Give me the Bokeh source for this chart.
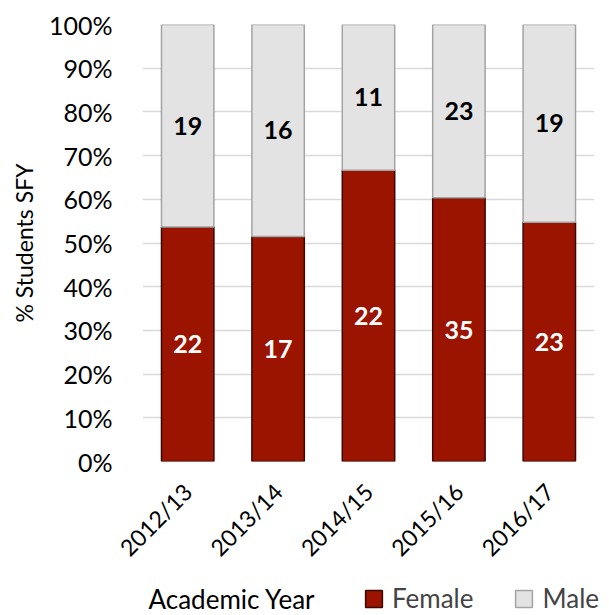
import math
from bokeh.plotting import figure
from bokeh.layouts import column
from bokeh.models import (ColumnDataSource, Range1d, Legend, LegendItem, Label,
                          NumeralTickFormatter, FixedTicker)
from bokeh.embed import file_html
from bokeh.resources import INLINE

years = ["2012/13", "2013/14", "2014/15", "2015/16", "2016/17"]
female = [22, 17, 22, 35, 23]
male = [19, 16, 11, 23, 19]

FONT = "Lato"
FEMALE_FILL, FEMALE_LINE = "#9B1400", "#3A0800"
MALE_FILL, MALE_LINE = "#E3E3E3", "#A3A3A3"

total = [f + m for f, m in zip(female, male)]
female_pct = [f / t for f, t in zip(female, total)]

src = ColumnDataSource(dict(
    year=years,
    female_top=female_pct,
    ones=[1.0] * len(years),
    female_mid=[p / 2 for p in female_pct],
    male_mid=[p + (1 - p) / 2 for p in female_pct],
    female_txt=[str(v) for v in female],
    male_txt=[str(v) for v in male],
))

p = figure(x_range=years, y_range=Range1d(0, 1), width=609, height=575,
           output_backend="svg", toolbar_location=None,
           min_border_left=142, min_border_right=15, min_border_top=24, min_border_bottom=114)
p.frame_align = False
p.outline_line_color = None

p.vbar(x="year", bottom=0, top="female_top", width=0.58, source=src,
       fill_color=FEMALE_FILL, line_color=FEMALE_LINE, line_width=1.5)
p.vbar(x="year", bottom="female_top", top="ones", width=0.58, source=src,
       fill_color=MALE_FILL, line_color=MALE_LINE, line_width=1.5)

p.text(x="year", y="female_mid", text="female_txt", source=src, text_color="white",
       text_font_size="25px", text_font_style="bold", text_align="center",
       text_baseline="middle", text_font={"value": FONT})
p.text(x="year", y="male_mid", text="male_txt", source=src, text_color="black",
       text_font_size="25px", text_font_style="bold", text_align="center",
       text_baseline="middle", text_font={"value": FONT})

# y axis
p.yaxis.ticker = FixedTicker(ticks=[i / 10 for i in range(11)])
p.yaxis.formatter = NumeralTickFormatter(format="0%")
p.yaxis.axis_line_color = None
p.yaxis.major_tick_line_color = None
p.yaxis.minor_tick_line_color = None
p.yaxis.major_label_standoff = 24
p.yaxis.major_label_text_font_size = "25px"
p.yaxis.major_label_text_font = FONT
p.yaxis.major_label_text_color = "black"
p.yaxis.axis_label = "% Students SFY"
p.yaxis.axis_label_text_font = FONT
p.yaxis.axis_label_text_font_size = "23px"
p.yaxis.axis_label_text_font_style = "normal"
p.yaxis.axis_label_text_color = "black"
p.yaxis.axis_label_standoff = 8

# x axis
p.xaxis.axis_line_color = None
p.xaxis.major_tick_line_color = None
p.xaxis.major_label_orientation = math.pi / 4
p.xaxis.major_label_text_font_size = "23px"
p.xaxis.major_label_text_font = FONT
p.xaxis.major_label_text_color = "black"
p.xaxis.major_label_standoff = 20

p.xgrid.grid_line_color = None
p.ygrid.grid_line_color = "#D9D9D9"
p.ygrid.grid_line_width = 1.5

# bottom strip: axis title and legend on one row (pixel coordinates)
strip = figure(width=609, height=40, x_range=Range1d(0, 609), y_range=Range1d(0, 40),
               output_backend="svg", toolbar_location=None,
               x_axis_location=None, y_axis_location=None,
               min_border=0, min_border_left=0, min_border_right=0,
               min_border_top=0, min_border_bottom=0)
strip.frame_align = False
strip.outline_line_color = None
strip.grid.grid_line_color = None

# legend keys only; nothing of these is drawn in the strip itself
nan = float("nan")
f_key = strip.vbar(x=[nan], top=[nan], width=1, fill_color=FEMALE_FILL,
                   line_color=FEMALE_LINE, line_width=1.5)
m_key = strip.vbar(x=[nan], top=[nan], width=1, fill_color=MALE_FILL,
                   line_color=MALE_LINE, line_width=1.5)

strip.add_layout(Label(x=148, y=17, text="Academic Year", text_font=FONT,
                       text_font_size="26px", text_color="black",
                       text_align="left", text_baseline="middle"))

legend = Legend(items=[LegendItem(label="Female", renderers=[f_key]),
                       LegendItem(label="Male", renderers=[m_key])],
                orientation="horizontal", location=(363, 1),
                label_text_font=FONT, label_text_font_size="26px",
                glyph_width=21, glyph_height=21, label_standoff=8, spacing=40,
                padding=0, margin=0, border_line_color=None, background_fill_alpha=0)
strip.add_layout(legend, "center")

open("out.html", "w").write(file_html(column(p, strip, spacing=0), INLINE))
